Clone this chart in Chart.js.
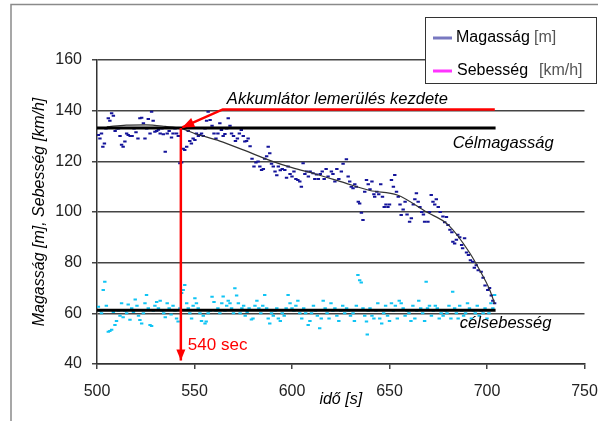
<!DOCTYPE html>
<html>
<head>
<meta charset="utf-8">
<script src="https://cdn.jsdelivr.net/npm/chart.js@4.4.0/dist/chart.umd.min.js"></script>
<style>
  html, body { margin: 0; padding: 0; background: #fff; }
</style>
</head>
<body>
<canvas id="chart" width="598" height="421"></canvas>
<script>
// data
const magassag = [
  [500.7,130.4],[501.5,129],[502.3,131],[503,125.8],[503.8,127],[504.6,133],[505.8,137],[506.6,136],
  [507.5,139],[508.4,138],[509.3,132],[510.2,133],[511,133],[511.8,130],[512.6,126.5],[513.4,125.8],
  [514.3,127.8],[515.2,131],[516,130.4],[517,130],[518,130],[519,133],[520,131.5],[521,129],
  [522,137],[522.9,137.2],[523.8,135],[524.6,129],[525.5,133],[526.3,136.7],[527.2,131],[528,139.6],
  [528.8,136],[529.7,131.7],[530.6,132],[531.5,132.5],[532.4,131],[533.3,133],[534,130.7],[535,123.8],
  [536,131],[537,132],[538.2,129.4],[539,131],[540,133],[540.8,131],[541.7,130],[542.5,119.2],
  [543.4,119.5],[544.2,125],[545,124.5],[546,125.8],[546.8,132],[547.6,128],[548.4,127],[549.3,129],
  [550.2,128.4],[551,131],[552,130],[552.8,130.4],[553.6,131],[554.5,130],[555.4,133],[556.2,136],
  [557,139.6],[558,136.3],[559,134],[560,131],[561,129],[562,131],[563,135],[563.8,132.4],
  [564.7,130],[565.6,130.8],[566.5,133],[567.3,137],[568.2,134],[569,131],[570,130],[571,128],
  [572,129],[573,131],[574,132.4],[575,130],[575.8,127.8],[576.7,128],[577.5,129],[578.5,126],
  [579.5,121],[580.5,118],[581.5,119.5],[582.6,119.9],[583.5,118],[584.4,116.6],[585.3,117],[586,121],
  [587,122],[587.8,125.8],[588.6,123.2],[589.5,119],[590.4,118],[591.3,116],[592.2,114.5],[593,118],
  [594,116.5],[595,117],[596.3,116.6],[597.2,113.5],[598,118],[599,115],[600,114],[601,116],
  [602,113],[603,112.6],[604,112],[604.8,110],[605.7,119.2],[606.6,115],[607.5,116],[608.4,114],
  [609.3,116],[610.8,115.3],[611.7,113],[612.6,114.8],[613.5,113],[614.5,115],[615.5,116],[616.5,113],
  [617.5,117],[618.5,114],[620.2,116],[621,115],[622,112],[623,117],[624,113],[625.3,116],
  [626.2,119],[627.9,120.8],[628.8,114],[629.6,112],[630.4,110],[631.3,109.4],[632.2,111],[633,110],
  [634,104],[634.7,103.4],[635.6,99.7],[636.4,96.8],[637.3,108],[638.2,112.6],[639.1,111],[640,109],
  [641,112],[642,107],[642.4,106],[643.5,108],[644.5,107],[645.5,111],[646.4,106],[647.3,102],
  [648.2,103],[649.2,102],[650,103],[651,112.6],[652,110],[652.7,114.6],[653.6,108],[654.5,106],
  [655.4,103],[656,98.8],[657,101],[658,104],[659,99],[660.3,96.2],[661.2,97.5],[662.2,103],
  [663,105],[663.8,107.4],[664.7,104],[665.6,102],[666.5,100],[667.4,99],[668,96.2],[669.7,96.2],
  [670.5,100],[671.4,106.7],[672.3,104],[673.2,103],[674,105],[675,102],[676,100],[677.4,98.2],
  [678.3,96],[679.2,98],[680,94.9],[681,93],[682,92],[682.5,88.3],[683.4,87.6],[684.3,89],
  [685,91],[686,90],[687,87],[687.5,85.7],[688.5,89.6],[689.5,84],[690.5,83],[691.5,81],
  [692.7,80.4],[693.5,78],[694.5,79],[695.5,77],[697,76.4],[698,74],[699,71],[700.4,69.2],
  [701.3,70],[702.2,67],[703,65],[703.9,64]
];

const sebesseg = [
  [500.7,62.6],[501.5,61],[502.3,60],[503.2,69.2],[504,72.5],[504.8,63],[505.8,52.7],[506.6,53],
  [507.5,53.5],[508.4,60.5],[509.2,55.4],[510,57],[511,61],[511.8,59],[512.6,64],[513.4,58.5],
  [514.3,61],[515.2,60],[516,63.5],[516.9,57.5],[517.8,62],[518.7,60.5],[519.6,65.5],[520.5,63],
  [521.3,59],[522,57.4],[522.9,56],[523.8,60],[524.6,64],[525.4,67.2],[526.3,62],[527.2,55.4],
  [528,55],[528.9,61],[529.7,63],[530.6,64.5],[531.5,62],[532.4,65],[533.3,61],[534.2,60],
  [535,58.5],[536,64],[537,62],[538,59.5],[539,63],[540,61],[540.8,58],[541.6,56.8],
  [542.5,62],[543.4,68],[544.2,69.2],[545,71.2],[546,64],[546.8,62],[547.6,60],[548.5,58],
  [549.3,63],[550.2,66],[551,64],[551.9,62],[552.8,60],[553.6,57],[554.5,59],[555.4,56],
  [556,56.8],[557,60],[558,61],[559,66.5],[560,64.5],[561,61],[562,62],[563,60],
  [564,64],[564.7,66.6],[565.6,61],[566.5,63],[567.3,65],[568.2,64],[569,62],[570,60],
  [570.7,69.9],[571.6,67],[572.5,64],[573.4,60],[574.3,62],[575.2,63],[576,59],[577,60.5],
  [578,62],[579.2,57.6],[580,58],[581,63],[582,65],[583,62],[584,60],[585,63],
  [586,67.2],[587,62],[587.8,58],[588.6,56],[589.5,60],[590.4,59],[591.3,61],[592.2,62],
  [593,58],[594,57],[595,60],[596,59],[597,62],[598,67.2],[599,64],[600,62],
  [601,61],[602,63],[603,65],[604,60],[605,58],[606,62],[607,60],[608.3,55.4],
  [609.2,57],[610,60],[611,63],[612,61],[613,59],[614.2,54.1],[615,58],[616,65],
  [617,62],[618,60],[619,58],[620,64],[621,61],[622,62],[623,59],[624,57],
  [625,61],[626,63],[627,60],[628,62],[629,61],[630,59],[631.3,60],[632,57],
  [633,63],[633.8,75.1],[634.7,73.1],[635.5,72.2],[636.4,62],[637.3,59],[638.2,56.8],[638.6,51.6],
  [639.1,61],[640,62],[641,59],[642,58],[643,61],[644,64],[645,58],[646,56],
  [647,60],[648,63],[649,59],[650,57],[651,64],[652,61],[653,63],[654,58],
  [655,65],[656,64],[657,62],[658,59],[659,61],[660,60],[661,57],[662,63],
  [663,58],[664,61],[665,65],[666,62],[667,60],[668,57],[668.8,72.5],[669.5,62],
  [670.5,63],[671.5,59],[672.5,61],[673.5,63],[674.5,62],[675.5,58],[676.5,60],[677.5,59],
  [678.5,61],[679.5,60],[680.5,63],[681.5,58],[682.4,68.5],[683.4,62],[684.3,60],[685.2,58],
  [686,63],[687,61],[688,59],[689,60],[690,64],[691,62],[692,58],[693,61],
  [694,60],[695,63],[696,59],[697,61],[698,60],[699,62],[700,58],[701,60],
  [702,64],[703,62],[703.9,67.2]
];

// fitted curve of the altitude
const trend = [
  [505,133.6],[515,134.3],[525,134.4],[535,133.8],[543,133],[550,131],[563,128],[575,124.5],
  [590,120],[600,117.5],[612,115],[625,112],[640,108.5],[654,106.7],[669,100],[680,95],
  [691,84],[697,76],[701,70],[704,63.7]
];

const celMagassag = [[500,133.2],[704.4,133.2]];
const celSebesseg = [[500,61.2],[704.4,61.2]];
const akkuArrow = [[704,140.5],[564.5,140.5],[543.7,133.4]];
const secArrow = [[543,133.2],[543,41.4]];

const toXY = (arr) => arr.map(p => ({ x: p[0], y: p[1] }));

Chart.defaults.font.family = "'Liberation Sans', Arial, sans-serif";
Chart.defaults.font.size = 16;
Chart.defaults.color = "#222";

function arrowHead(ctx, fx, fy, tx, ty, len, half) {
  const a = Math.atan2(ty - fy, tx - fx);
  ctx.beginPath();
  ctx.moveTo(tx, ty);
  ctx.lineTo(tx - len * Math.cos(a) + half * Math.sin(a), ty - len * Math.sin(a) - half * Math.cos(a));
  ctx.lineTo(tx - len * Math.cos(a) - half * Math.sin(a), ty - len * Math.sin(a) + half * Math.cos(a));
  ctx.closePath();
  ctx.fill();
}

const overlay = {
  id: "overlay",
  afterDraw(chart) {
    const { ctx, scales: { x, y } } = chart;
    ctx.save();

    // arrow heads
    ctx.fillStyle = "#ff0000";
    arrowHead(ctx,
      x.getPixelForValue(akkuArrow[1][0]), y.getPixelForValue(akkuArrow[1][1]),
      x.getPixelForValue(akkuArrow[2][0]), y.getPixelForValue(akkuArrow[2][1]), 12, 5);
    arrowHead(ctx,
      x.getPixelForValue(secArrow[0][0]), y.getPixelForValue(secArrow[0][1]),
      x.getPixelForValue(secArrow[1][0]), y.getPixelForValue(secArrow[1][1]), 11, 4.5);

    // annotation texts
    ctx.textBaseline = "middle";
    ctx.textAlign = "left";
    ctx.fillStyle = "#000";
    ctx.font = "italic 16.5px 'Liberation Sans', Arial, sans-serif";
    ctx.fillText("Akkumlátor lemerülés kezdete", x.getPixelForValue(566.6), y.getPixelForValue(144.6));
    ctx.fillText("Célmagasság", x.getPixelForValue(682.4), y.getPixelForValue(127.2));
    ctx.fillText("célsebesség", x.getPixelForValue(686), y.getPixelForValue(56.2));
    ctx.fillStyle = "#ff0000";
    ctx.font = "17px 'Liberation Sans', Arial, sans-serif";
    ctx.fillText("540 sec", x.getPixelForValue(546.6), y.getPixelForValue(47.5));

    // legend box
    ctx.fillStyle = "#fff";
    ctx.fillRect(425.5, 17.5, 171, 66);
    ctx.strokeStyle = "#333";
    ctx.lineWidth = 1;
    ctx.strokeRect(425.5, 17.5, 171, 66);
    ctx.lineWidth = 3;
    ctx.strokeStyle = "#7878c0";
    ctx.beginPath(); ctx.moveTo(433, 38); ctx.lineTo(452, 38); ctx.stroke();
    ctx.strokeStyle = "#ff33ff";
    ctx.beginPath(); ctx.moveTo(433, 71); ctx.lineTo(452, 71); ctx.stroke();
    ctx.font = "16px 'Liberation Sans', Arial, sans-serif";
    ctx.fillStyle = "#000";
    ctx.fillText("Magasság", 456, 38);
    ctx.fillText("Sebesség", 457, 71);
    ctx.fillStyle = "#555";
    ctx.fillText("[m]", 534, 38);
    ctx.fillText("[km/h]", 539, 71);

    // outer frame
    ctx.strokeStyle = "#8a8a8a";
    ctx.lineWidth = 1.5;
    ctx.beginPath();
    ctx.moveTo(11, 421); ctx.lineTo(11, 4.5); ctx.lineTo(598, 4.5);
    ctx.stroke();
    ctx.restore();
  }
};

new Chart(document.getElementById("chart"), {
  type: "scatter",
  data: {
    datasets: [
      {
        label: "akku",
        data: toXY(akkuArrow),
        showLine: true,
        borderColor: "#ff0000",
        borderWidth: 2.5,
        pointRadius: 0,
      },
      {
        label: "540 sec",
        data: toXY(secArrow),
        showLine: true,
        borderColor: "#ff0000",
        borderWidth: 2.5,
        pointRadius: 0,
      },
      {
        label: "Célmagasság",
        data: toXY(celMagassag),
        showLine: true,
        borderColor: "#000",
        borderWidth: 3,
        pointRadius: 0,
      },
      {
        label: "célsebesség",
        data: toXY(celSebesseg),
        showLine: true,
        borderColor: "#000",
        borderWidth: 3,
        pointRadius: 0,
      },
      {
        label: "trend",
        data: toXY(trend),
        showLine: true,
        borderColor: "#333",
        borderWidth: 1.2,
        pointRadius: 0,
        cubicInterpolationMode: "monotone",
      },
      {
        label: "Magasság [m]",
        data: toXY(magassag),
        pointStyle: "line",
        pointRadius: 1.7,
        borderWidth: 2,
        borderColor: "#14149a",
        backgroundColor: "#14149a",
      },
      {
        label: "Sebesség [km/h]",
        data: toXY(sebesseg),
        pointStyle: "line",
        pointRadius: 1.7,
        borderWidth: 2,
        borderColor: "#10c4f4",
        backgroundColor: "#10c4f4",
      },
    ],
  },
  options: {
    responsive: false,
    animation: false,
    layout: {
      padding: { left: 0, top: 60, right: 13.5, bottom: 0 },
    },
    plugins: {
      legend: { display: false },
      tooltip: { enabled: false },
    },
    scales: {
      x: {
        type: "linear",
        min: 500,
        max: 750,
        ticks: { stepSize: 50, padding: 13, color: "#222" },
        grid: { drawOnChartArea: false, tickLength: 5, color: "#444", lineWidth: 1.5 },
        border: { color: "#333", width: 1.5 },
        title: {
          display: true,
          text: "idő [s]",
          font: { style: "italic", size: 16 },
          color: "#000",
          padding: { top: 0, bottom: 11.4 },
        },
        afterFit: (scale) => {
          scale.height = 57;
          scale.paddingLeft = 0;
          scale.paddingRight = 0;
        },
      },
      y: {
        min: 40,
        max: 160,
        ticks: { stepSize: 20, padding: 10, color: "#222" },
        grid: { color: "#444", lineWidth: 1.5, tickLength: 5 },
        border: { color: "#333", width: 1.5 },
        title: {
          display: true,
          text: "Magasság [m], Sebesség [km/h]",
          font: { style: "italic", size: 16 },
          color: "#000",
          padding: { top: 29.5, bottom: 0 },
        },
        afterFit: (scale) => {
          scale.width = 97;
          scale.paddingTop = 0;
          scale.paddingBottom = 0;
        },
      },
    },
  },
  plugins: [overlay],
});
</script>
</body>
</html>
